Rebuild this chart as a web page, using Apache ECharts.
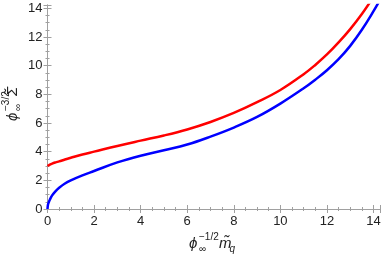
<!DOCTYPE html>
<html>
<head>
<meta charset="utf-8">
<script src="https://cdn.jsdelivr.net/npm/echarts@6/dist/echarts.min.js"></script>
<style>html,body{margin:0;padding:0;background:#fff}#c{width:382px;height:258px}</style>
</head>
<body>
<div id="c"></div>
<script>
const xValues   = [0, 0.02, 0.05, 0.1, 0.2, 0.35, 0.5, 0.75, 1, 1.5, 2, 3, 4, 5, 6, 7, 8, 9, 10, 11, 11.5, 12, 12.5, 13, 13.5, 14, 14.3];
const redValues = [3.0, 3.02, 3.05, 3.1, 3.17, 3.25, 3.32, 3.45, 3.57, 3.8, 4.0, 4.4, 4.77, 5.13, 5.55, 6.07, 6.7, 7.45, 8.3, 9.4, 10.05, 10.78, 11.62, 12.55, 13.6, 14.8, 15.6];
const blueValues= [0, 0.3, 0.45, 0.65, 0.95, 1.25, 1.48, 1.78, 2.0, 2.35, 2.65, 3.25, 3.72, 4.1, 4.5, 5.05, 5.68, 6.42, 7.35, 8.42, 9.02, 9.68, 10.45, 11.38, 12.5, 13.8, 14.65];
const xTicks = [0, 2, 4, 6, 8, 10, 12, 14];
const yTicks = [0, 2, 4, 6, 8, 10, 12, 14];

const chart = echarts.init(document.getElementById('c'), null, {renderer: 'canvas'});
const frame = {show: true, lineStyle: {color: '#a0a0a0', width: 1}};
const tick = {show: true, inside: true, length: 4, lineStyle: {color: '#a0a0a0'}};
const minor = {show: true, splitNumber: 4, length: 2, lineStyle: {color: '#a0a0a0'}};
const lab = {color: '#222', fontSize: 13, fontFamily: 'Liberation Sans, Arial, sans-serif'};
const big = 'italic 15px "Liberation Sans", Arial, sans-serif';
const small = '10px "Liberation Sans", Arial, sans-serif';
const smallIt = 'italic 10px "Liberation Sans", Arial, sans-serif';
function t(text, x, y, font) {
  return {type: 'text', x: x, y: y, silent: true,
    style: {text: text, font: font, fill: '#222', textAlign: 'left', textVerticalAlign: 'middle'}};
}
chart.setOption({
  animation: false,
  grid: {left: 47.5, right: 1.5, top: 5, bottom: 49, containLabel: false, outerBoundsMode: 'none'},
  xAxis: [{
    type: 'value', min: 0, max: 14.3, interval: 2,
    axisLine: frame, axisTick: tick, minorTick: minor, splitLine: {show: false},
    axisLabel: Object.assign({margin: 6, showMaxLabel: false, formatter: v => xTicks.includes(v) ? String(v) : ''}, lab)
  }, {
    type: 'value', position: 'top', min: 0, max: 14.3, interval: 2,
    axisLine: frame, axisTick: tick, minorTick: minor, splitLine: {show: false},
    axisLabel: {show: false}
  }],
  yAxis: [{
    type: 'value', min: 0, max: 14.23, interval: 2,
    axisLine: frame, axisTick: tick, minorTick: minor, splitLine: {show: false},
    axisLabel: Object.assign({margin: 5, showMaxLabel: false, formatter: v => yTicks.includes(v) ? String(v) : ''}, lab)
  }, {
    type: 'value', position: 'right', min: 0, max: 14.23, interval: 2,
    axisLine: frame, axisTick: tick, minorTick: minor, splitLine: {show: false},
    axisLabel: {show: false}
  }],
  graphic: [
    {type: 'group', x: 0, y: 0, children: [
      t('ϕ', 189, 244, big),
      t('∞', 199, 249.5, small),
      t('−1/2', 199, 237, small),
      t('m̃', 219, 244, big),
      t('q', 229.5, 249.5, smallIt)
    ]},
    {type: 'group', x: 0, y: 121, rotation: Math.PI / 2, children: [
      t('ϕ', 0, 12.8, big),
      t('∞', 10, 18, small),
      t('−3/2', 10, 6.5, small),
      t('Σ̃', 25, 12.8, big)
    ]}
  ],
  series: [{
    type: 'line', name: 'red', data: xValues.map((x, i) => [x, redValues[i]]),
    smooth: 0.4, showSymbol: false, clip: true,
    lineStyle: {color: '#ff0000', width: 2.5}
  }, {
    type: 'line', name: 'blue', data: xValues.map((x, i) => [x, blueValues[i]]),
    smooth: 0.4, showSymbol: false, clip: true,
    lineStyle: {color: '#0000ff', width: 2.5}
  }]
});
</script>
</body>
</html>
